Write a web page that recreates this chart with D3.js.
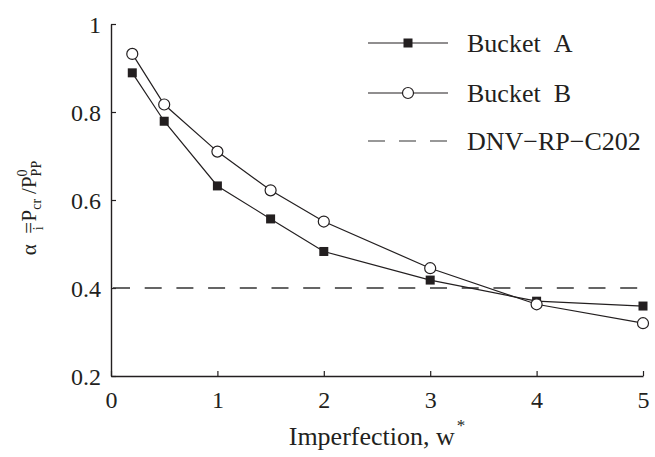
<!DOCTYPE html>
<html><head><meta charset="utf-8">
<script src="https://cdn.jsdelivr.net/npm/d3@7"></script>
<style>body{margin:0;background:#fff}svg{display:block}</style>
</head><body><div id="chart"></div>
<script>
const xValues = [0.2, 0.5, 1, 1.5, 2, 3, 4, 5];
const bucketA = [0.889, 0.779, 0.632, 0.557, 0.483, 0.418, 0.370, 0.359];
const bucketB = [0.932, 0.817, 0.710, 0.622, 0.551, 0.445, 0.363, 0.320];
const dnvValue = 0.4;
const xTicks = [0, 1, 2, 3, 4, 5];
const yTicks = [0.2, 0.4, 0.6, 0.8, 1];
const legendLabels = ["Bucket\u00a0\u00a0A", "Bucket\u00a0\u00a0B", "DNV\u2212RP\u2212C202"];

const W = 655, H = 457;
const ink = "#231f20";
const FF = "Liberation Serif";
const svg = d3.select("#chart").append("svg").attr("width", W).attr("height", H);
const x = d3.scaleLinear().domain([0, 5]).range([111, 643]);
const y = d3.scaleLinear().domain([0.2, 1]).range([376, 24]);

// axes
const xAxis = svg.append("g").attr("transform", `translate(0,${y(0.2)})`)
  .call(d3.axisBottom(x).tickValues(xTicks).tickSizeInner(-5).tickSizeOuter(0).tickPadding(15).tickFormat(d3.format("d")));
const yAxis = svg.append("g").attr("transform", `translate(${x(0)},0)`)
  .call(d3.axisLeft(y).tickValues(yTicks).tickSizeInner(-5).tickSizeOuter(0).tickPadding(10).tickFormat(d => d === 1 ? "1" : d.toFixed(1)));
[xAxis, yAxis].forEach(g => {
  g.attr("font-family", null).attr("font-size", null);
  g.select(".domain").attr("stroke", ink).attr("stroke-width", 1.4);
  g.selectAll(".tick line").attr("stroke", ink).attr("stroke-width", 1.2);
  g.selectAll(".tick text").style("font-size", "24px").style("font-family", FF).attr("fill", ink);
});
yAxis.selectAll(".tick text").attr("dy", "0.34em");

// DNV line
svg.append("line").attr("x1", x(0)).attr("x2", x(5)).attr("y1", y(dnvValue)).attr("y2", y(dnvValue))
  .attr("stroke", "#333").attr("stroke-width", 1.3).attr("stroke-dasharray", "17,14.7").attr("stroke-dashoffset", 29.7);

const line = d3.line().x((d, i) => x(xValues[i])).y(d => y(d));
svg.append("path").datum(bucketA).attr("d", line).attr("fill", "none").attr("stroke", ink).attr("stroke-width", 1.2);
svg.append("path").datum(bucketB).attr("d", line).attr("fill", "none").attr("stroke", ink).attr("stroke-width", 1.2);

const sq = 9;
svg.append("g").selectAll("rect").data(bucketA).join("rect")
  .attr("x", (d, i) => x(xValues[i]) - sq / 2).attr("y", d => y(d) - sq / 2)
  .attr("width", sq).attr("height", sq).attr("fill", ink);
svg.append("g").selectAll("circle").data(bucketB).join("circle")
  .attr("cx", (d, i) => x(xValues[i])).attr("cy", d => y(d)).attr("r", 5.5)
  .attr("fill", "#fff").attr("stroke", ink).attr("stroke-width", 1.2);

// legend
const lg = svg.append("g");
const rows = [43, 93, 141];
legendLabels.forEach((lab, i) => {
  const ly = rows[i];
  const l = lg.append("line").attr("x1", 368).attr("x2", 448).attr("y1", ly).attr("y2", ly)
    .attr("stroke", i === 2 ? "#333" : ink).attr("stroke-width", 1.2);
  if (i === 2) l.attr("stroke-dasharray", "17,14");
  if (i === 0) lg.append("rect").attr("x", 408 - sq / 2).attr("y", ly - sq / 2).attr("width", sq).attr("height", sq).attr("fill", ink);
  if (i === 1) lg.append("circle").attr("cx", 408).attr("cy", ly).attr("r", 5.5).attr("fill", "#fff").attr("stroke", ink).attr("stroke-width", 1.2);
  lg.append("text").attr("x", 467).attr("y", ly + 8.5).style("font-size", "26px").style("font-family", FF).attr("fill", ink).text(lab);
});

// x label
const xl = svg.append("text").attr("x", 377).attr("y", 445).attr("text-anchor", "middle")
  .style("font-size", "26px").style("font-family", FF).attr("fill", ink);
xl.append("tspan").text("Imperfection, w");
xl.append("tspan").style("font-size", "17px").attr("dy", -14).attr("dx", 2).text("*");

// y label
const yl = svg.append("text").attr("transform", "translate(36,208) rotate(-90)").attr("text-anchor", "middle")
  .style("font-size", "21px").style("font-family", FF).attr("fill", ink);
yl.append("tspan").text("\u03b1\u2002=");
yl.append("tspan").style("font-size", "14px").attr("dx", -8.5).attr("dy", 7).text("i");
yl.append("tspan").style("font-size", "21px").attr("dx", 5).attr("dy", -7).text("P");
yl.append("tspan").style("font-size", "14px").attr("dy", 5).text("cr");
yl.append("tspan").style("font-size", "21px").attr("dx", 5).attr("dy", -5).text("/P");
yl.append("tspan").style("font-size", "14px").attr("dy", -9).text("0");
yl.append("tspan").style("font-size", "14px").attr("dx", -7).attr("dy", 14).text("PP");
</script></body></html>
